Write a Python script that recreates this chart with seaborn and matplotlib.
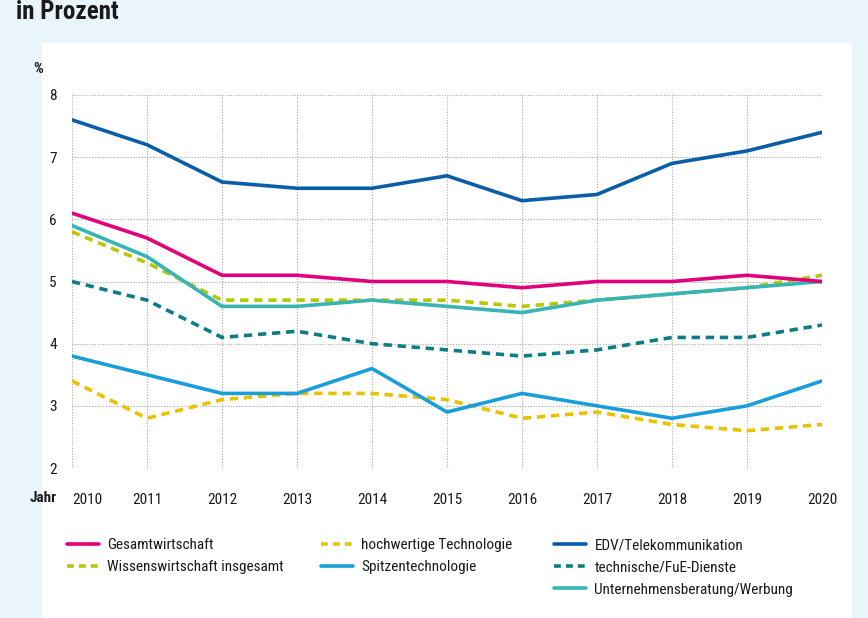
import matplotlib
matplotlib.use("Agg")
import matplotlib.pyplot as plt
from matplotlib.lines import Line2D
from matplotlib.patches import Rectangle
from matplotlib import font_manager
import seaborn as sns
import pandas as pd

years = [2010, 2011, 2012, 2013, 2014, 2015, 2016, 2017, 2018, 2019, 2020]
gesamt = [6.1, 5.7, 5.1, 5.1, 5.0, 5.0, 4.9, 5.0, 5.0, 5.1, 5.0]
wissen = [5.8, 5.3, 4.7, 4.7, 4.7, 4.7, 4.6, 4.7, 4.8, 4.9, 5.1]
hochwertig = [3.4, 2.8, 3.1, 3.2, 3.2, 3.1, 2.8, 2.9, 2.7, 2.6, 2.7]
spitzen = [3.8, 3.5, 3.2, 3.2, 3.6, 2.9, 3.2, 3.0, 2.8, 3.0, 3.4]
edv = [7.6, 7.2, 6.6, 6.5, 6.5, 6.7, 6.3, 6.4, 6.9, 7.1, 7.4]
fue = [5.0, 4.7, 4.1, 4.2, 4.0, 3.9, 3.8, 3.9, 4.1, 4.1, 4.3]
beratung = [5.9, 5.4, 4.6, 4.6, 4.7, 4.6, 4.5, 4.7, 4.8, 4.9, 5.0]

labels = ["Gesamtwirtschaft", "Wissenswirtschaft insgesamt", "hochwertige Technologie",
          "Spitzentechnologie", "EDV/Telekommunikation", "technische/FuE-Dienste",
          "Unternehmensberatung/Werbung"]
values = [gesamt, wissen, hochwertig, spitzen, edv, fue, beratung]
colors = ["#e2007a", "#b7c800", "#e8c100", "#1a9edb", "#0a5ea6", "#0c7d86", "#37b4b4"]
dashed = [False, True, True, False, False, True, False]
order = [2, 3, 5, 1, 6, 0, 4]

sns.set_style("white")
installed = {f.name for f in font_manager.fontManager.ttflist}
main_font = "DejaVu Sans"
for cand in ["Liberation Sans Narrow", "DejaVu Sans Condensed", "Roboto Condensed",
             "Open Sans Condensed", "Roboto", "Lato"]:
    if cand in installed:
        main_font = cand
        break
plt.rcParams['font.family'] = [main_font, "DejaVu Sans"]

fig = plt.figure(figsize=(8.68, 6.18), dpi=100)
fig.patch.set_facecolor("#e9f4fb")
fig.patches.append(Rectangle((42 / 868, 0), (852 - 42) / 868, 1 - 43 / 618,
                             transform=fig.transFigure, facecolor="white",
                             edgecolor="none", zorder=-5))

ax = fig.add_axes([72 / 868, 1 - 468 / 618, (822 - 72) / 868, (468 - 95) / 618])
ax.set_facecolor("none")
ax.set_zorder(2)

rows = []
for lab, vals in zip(labels, values):
    for y, v in zip(years, vals):
        rows.append({"Jahr": y, "Wert": v, "Reihe": lab})
df = pd.DataFrame(rows)

handles = {}
for i in order:
    sub = df[df["Reihe"] == labels[i]]
    sns.lineplot(data=sub, x="Jahr", y="Wert", ax=ax, color=colors[i], lw=2.6,
                 linestyle=(0, (2.3, 1.6)) if dashed[i] else "-", legend=False)
    handles[i] = Line2D([], [], color=colors[i], lw=2.6,
                        linestyle=(0, (1.9, 1.4)) if dashed[i] else "-")

ax.set_xlim(2010, 2020)
ax.set_ylim(2, 8)
ax.set_xticks(years)
ax.set_yticks(range(2, 9))
ax.grid(True, color="#a8a8a8", linestyle=(0, (1, 1.5)), linewidth=0.8)
for s in ax.spines.values():
    s.set_visible(False)
ax.tick_params(axis="both", length=0, labelsize=11, colors="#1a1a1a")
ax.tick_params(axis="x", pad=18)
ax.tick_params(axis="y", pad=11)
ax.set_xlabel("")
ax.set_ylabel("")
first = ax.get_xticklabels()[0]
first.set_horizontalalignment("left")

fig.text(30 / 868, 1 - 498 / 618, "Jahr", fontsize=11, fontweight="bold",
         va="center", ha="left", color="#1a1a1a")
fig.text(33 / 868, 1 - 69 / 618, "%", fontsize=11, fontweight="bold",
         va="center", ha="left", color="#1a1a1a")
fig.text(16 / 868, 1 - 12 / 618, "in Prozent", fontsize=18, fontweight="bold",
         va="center", ha="left", color="#1a1a1a")

cols = [([0, 1], 67), ([2, 3], 321), ([4, 5, 6], 554)]
for idxs, xpx in cols:
    leg = fig.legend([handles[i] for i in idxs], [labels[i] for i in idxs],
                     loc="upper left", bbox_to_anchor=(xpx / 868, 1 - 538 / 618),
                     frameon=False, fontsize=11, handlelength=2.1,
                     handletextpad=0.55, labelspacing=0.55, borderpad=0,
                     borderaxespad=0)
    for t in leg.get_texts():
        t.set_color("#1a1a1a")

fig.savefig("out.png", dpi=100, facecolor=fig.get_facecolor())
